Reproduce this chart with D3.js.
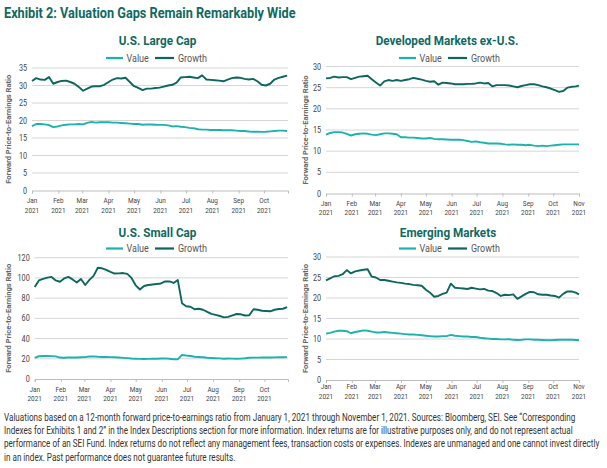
<!DOCTYPE html>
<html><head><meta charset="utf-8">
<script src="https://cdn.jsdelivr.net/npm/d3@7"></script>
<style>
html,body{margin:0;padding:0;background:#fff;}
svg{display:block;}
</style></head>
<body>
<svg id="chart" width="607" height="468"></svg>
<script>
// ---------- DATA ----------
const chartTitle = "Exhibit 2: Valuation Gaps Remain Remarkably Wide";
const panelTitles = ["U.S. Large Cap", "Developed Markets ex-U.S.", "U.S. Small Cap", "Emerging Markets"];
const seriesNames = ["Value", "Growth"];
const yAxisTitle = "Forward Price-to-Earnings Ratio";
const yTicksLarge = [0,5,10,15,20,25,30,35];
const yTicksDev = [0,5,10,15,20,25,30];
const yTicksSmall = [0,20,40,60,80,100,120];
const yTicksEm = [0,5,10,15,20,25,30];
// days since Jan 1, 2021
const daysUS = [0,5,10,15,20,25,30,35,40,45,50,55,60,65,70,75,80,85,90,95,100,105,110,115,120,125,130,135,140,145,150,155,160,165,170,175,180,185,190,195,200,205,210,215,220,225,230,235,240,245,250,255,260,265,270,275,280,285,290,295,300];
const daysIntl = [0,5,10,15,20,25,30,35,40,45,50,55,60,65,70,75,80,85,90,95,100,105,110,115,120,125,130,135,140,145,150,155,160,165,170,175,180,185,190,195,200,205,210,215,220,225,230,235,240,245,250,255,260,265,270,275,280,285,290,295,300,304];

const largeValue = [18.4,19.0,19.0,18.9,18.7,18.1,18.3,18.6,18.8,18.9,18.9,19.0,18.9,19.3,19.6,19.4,19.5,19.5,19.5,19.4,19.4,19.3,19.2,19.1,19.0,19.0,18.8,18.9,18.85,18.8,18.75,18.75,18.6,18.3,18.4,18.2,18.1,17.9,17.8,17.5,17.4,17.4,17.3,17.3,17.3,17.2,17.2,17.2,17.1,17.0,17.0,16.85,16.8,16.8,16.75,16.8,16.9,17.0,17.1,17.1,17.0];
const largeGrowth = [31.3,32.1,31.7,31.6,32.4,30.5,31.0,31.3,31.4,31.0,30.5,29.6,28.5,29.1,29.7,29.8,29.8,30.2,31.0,31.7,32.1,32.0,32.2,31.0,29.8,29.3,28.7,29.1,29.1,29.3,29.4,29.7,30.0,30.2,30.8,32.3,32.4,32.5,32.3,32.1,32.9,31.7,31.6,31.5,31.4,31.2,31.7,32.1,32.3,32.2,31.9,31.7,31.9,31.2,30.2,30.0,30.5,31.7,32.2,32.5,32.8];

const devValue = [13.9,14.3,14.5,14.5,14.4,14.1,13.7,14.0,14.1,14.2,14.1,13.9,13.8,14.0,14.2,14.2,14.1,14.0,13.3,13.3,13.2,13.2,13.1,13.0,13.0,13.1,12.9,12.8,12.8,12.75,12.7,12.7,12.7,12.6,12.4,12.2,12.3,12.1,12.0,11.8,11.8,11.8,11.75,11.6,11.5,11.6,11.5,11.5,11.4,11.5,11.3,11.2,11.3,11.2,11.3,11.4,11.5,11.6,11.6,11.6,11.6,11.6];
const devGrowth = [27.2,27.3,27.6,27.4,27.5,27.5,27.0,27.3,27.6,27.7,27.8,27.0,26.2,25.5,26.5,26.8,26.6,26.8,26.6,26.8,27.0,27.3,27.1,26.9,26.6,26.4,26.5,25.7,26.2,26.1,26.0,25.8,25.8,25.8,25.9,25.9,26.0,26.2,26.0,26.1,25.3,25.6,25.6,25.6,25.5,25.3,25.1,25.4,25.6,25.8,25.8,25.6,25.3,25.1,24.8,24.4,24.0,24.2,25.0,25.2,25.3,25.5];

const smallValue = [21.0,22.5,22.7,22.8,22.6,22.4,21.2,21.0,21.3,21.2,21.3,21.5,21.6,22.3,22.4,22.0,21.8,21.7,21.6,21.5,21.2,20.9,20.6,20.3,20.1,19.9,19.8,19.9,20.0,20.1,20.3,20.4,20.0,19.6,19.5,23.8,23.2,22.8,22.0,21.8,21.5,21.0,20.8,20.6,20.4,20.1,20.3,20.2,20.0,20.2,20.5,21.0,21.1,21.1,21.2,21.3,21.3,21.4,21.5,21.5,21.6];
const smallGrowth = [91.0,97.5,99.0,100.3,101.0,97.5,96.2,99.5,101.0,98.5,95.5,99.0,93.0,98.0,102.0,110.0,109.5,108.0,106.0,104.3,104.5,104.8,104.0,100.0,92.7,88.5,92.0,93.0,93.5,94.0,94.5,96.5,96.5,95.0,98.0,75.0,72.0,71.5,69.0,69.5,68.5,66.5,64.5,63.5,62.3,61.0,61.5,63.0,64.3,64.0,62.8,63.0,69.0,68.5,67.5,67.3,67.0,68.5,69.3,69.5,71.0];

const emValue = [11.3,11.5,11.8,12.0,12.0,11.9,11.4,11.7,11.9,12.1,12.0,11.8,11.6,11.6,11.7,11.6,11.5,11.4,11.3,11.2,11.1,11.1,11.0,10.9,10.8,10.7,10.6,10.6,10.7,10.7,11.0,10.8,10.7,10.6,10.6,10.5,10.5,10.3,10.2,10.1,10.0,10.0,9.9,9.9,9.95,9.8,9.75,9.8,9.9,9.9,9.8,9.8,9.75,9.7,9.7,9.75,9.8,9.85,9.8,9.8,9.75,9.7];
const emGrowth = [24.3,24.8,25.3,25.4,25.8,26.8,26.0,26.5,26.7,26.9,27.0,25.2,25.0,24.4,24.4,24.2,24.0,23.8,23.7,23.5,23.4,23.2,23.1,23.0,22.0,21.3,20.3,20.5,21.0,21.3,23.5,22.5,22.4,22.3,22.2,22.5,22.3,22.1,22.2,21.8,21.7,21.2,20.5,20.8,20.7,20.9,19.8,20.4,21.0,21.5,21.4,20.9,20.8,20.8,20.6,20.5,20.1,21.0,21.6,21.6,21.3,20.9];

const footnoteLines = [
 "Valuations based on a 12-month forward price-to-earnings ratio from January 1, 2021 through November 1, 2021. Sources: Bloomberg, SEI. See \u201cCorresponding",
 "Indexes for Exhibits 1 and 2\u201d in the Index Descriptions section for more information. Index returns are for illustrative purposes only, and do not represent actual",
 "performance of an SEI Fund. Index returns do not reflect any management fees, transaction costs or expenses. Indexes are unmanaged and one cannot invest directly",
 "in an index. Past performance does not guarantee future results."
];

// ---------- STYLE / LAYOUT ----------
const C_VALUE = "#1db3ad";
const C_GROWTH = "#0c675e";
const C_TITLE = "#11695f";
const FONT = "Roboto, sans-serif";
const start = new Date(2021, 0, 1);
const toDate = d => d3.timeDay.offset(start, d);

// condensed text helper: horizontally scaled text
function narrowText(parent, x, y, str, opts) {
  const o = Object.assign({size: 8, anchor: "start", sx: 0.82, fill: "#444", weight: 400, width: null}, opts || {});
  const g = parent.append("g").attr("transform", `translate(${x},${y})`);
  const t = g.append("text").attr("x", 0).attr("y", 0).attr("text-anchor", o.anchor)
    .attr("font-family", FONT).attr("font-size", o.size).attr("font-weight", o.weight)
    .attr("fill", o.fill).text(str);
  let sx = o.sx;
  if (o.width) sx = o.width / t.node().getComputedTextLength();
  g.attr("transform", `translate(${x},${y}) scale(${sx},1)`);
  return t;
}

const panels = [
  {title: panelTitles[0], days: daysUS, value: largeValue, growth: largeGrowth, yTicks: yTicksLarge,
   x0: 32, x1: 288, yT: 68, yB: 190.5, end: new Date(2021,9,29), tx: 157.5, ty: 45, lx: 106, ly: 58, ylx: 8, lab1: 203, lab2: 213},
  {title: panelTitles[1], days: daysIntl, value: devValue, growth: devGrowth, yTicks: yTicksDev,
   x0: 326, x1: 579, yT: 66.5, yB: 193.5, end: new Date(2021,10,1), tx: 447, ty: 45, lx: 399, ly: 58, ylx: 305, lab1: 205.5, lab2: 215},
  {title: panelTitles[2], days: daysUS, value: smallValue, growth: smallGrowth, yTicks: yTicksSmall,
   x0: 34.7, x1: 288, yT: 257.7, yB: 379, end: new Date(2021,9,29), tx: 157.5, ty: 236.5, lx: 106, ly: 248.5, ylx: 8, lab1: 391.5, lab2: 401},
  {title: panelTitles[3], days: daysIntl, value: emValue, growth: emGrowth, yTicks: yTicksEm,
   x0: 326, x1: 579, yT: 257, yB: 380, end: new Date(2021,10,1), tx: 448, ty: 236.5, lx: 399, ly: 248.5, ylx: 305, lab1: 389, lab2: 398.5}
];

const svg = d3.select("#chart");

narrowText(svg, 4, 17.5, chartTitle, {size: 15.5, weight: 700, fill: C_TITLE, width: 292});

panels.forEach(p => {
  const g = svg.append("g");
  const x = d3.scaleTime().domain([start, p.end]).range([p.x0, p.x1]);
  const yMax = p.yTicks[p.yTicks.length - 1];
  const y = d3.scaleLinear().domain([0, yMax]).range([p.yB, p.yT]);

  // gridlines
  g.selectAll("line.grid").data(p.yTicks.filter(t => t > 0)).join("line")
    .attr("x1", p.x0).attr("x2", p.x1).attr("y1", d => y(d)).attr("y2", d => y(d))
    .attr("stroke", "#d6d6d6").attr("stroke-width", 1);

  // y tick labels
  p.yTicks.forEach(t => {
    narrowText(g, p.x0 - 5, y(t) + 3, String(t), {size: 8.5, anchor: "end", sx: 0.85, fill: "#444"});
  });

  // x axis
  const months = d3.timeMonth.range(start, d3.timeDay.offset(p.end, 1));
  const xAxis = d3.axisBottom(x).tickValues(months).tickSize(3).tickFormat("");
  const xa = g.append("g").attr("transform", `translate(0,${p.yB})`).call(xAxis);
  xa.select(".domain").attr("stroke", "#bdbdbd");
  xa.selectAll(".tick line").attr("stroke", "#bdbdbd");
  const fmtM = d3.timeFormat("%b"), fmtY = d3.timeFormat("%Y");
  months.forEach(m => {
    narrowText(g, x(m), p.lab1, fmtM(m), {size: 8, anchor: "middle", sx: 0.8});
    narrowText(g, x(m), p.lab2, fmtY(m), {size: 8, anchor: "middle", sx: 0.8});
  });

  // y axis title
  const yc = (p.yT + p.yB) / 2;
  g.append("text").attr("transform", `translate(${p.ylx + 3},${yc}) rotate(-90)`)
    .attr("text-anchor", "middle").attr("font-family", FONT).attr("font-weight", 700)
    .attr("font-size", 8).attr("fill", "#666").attr("textLength", 109).attr("lengthAdjust", "spacingAndGlyphs")
    .text(yAxisTitle);

  // panel title
  narrowText(g, p.tx, p.ty, p.title, {size: 13, weight: 700, anchor: "middle", sx: 0.9, fill: C_TITLE});

  // legend
  const lg = g.append("g").attr("transform", `translate(${p.lx},${p.ly})`);
  lg.append("line").attr("x1", 0).attr("x2", 17).attr("stroke", C_VALUE).attr("stroke-width", 2.2);
  narrowText(lg, 20.5, 3.5, seriesNames[0], {size: 10, sx: 0.9, fill: "#555"});
  lg.append("line").attr("x1", 49).attr("x2", 68).attr("stroke", C_GROWTH).attr("stroke-width", 2.2);
  narrowText(lg, 72, 3.5, seriesNames[1], {size: 10, sx: 0.9, fill: "#555"});

  // lines
  const line = d3.line().x((d, i) => x(toDate(p.days[i]))).y(d => y(d)).curve(d3.curveLinear);
  g.append("path").datum(p.value).attr("d", line).attr("fill", "none")
    .attr("stroke", C_VALUE).attr("stroke-width", 1.9).attr("stroke-linejoin", "round");
  g.append("path").datum(p.growth).attr("d", line).attr("fill", "none")
    .attr("stroke", C_GROWTH).attr("stroke-width", 1.9).attr("stroke-linejoin", "round");
});

// footnote: one uniform horizontal scale, set so the longest line spans the page width
const fnG = svg.append("g");
const probe = fnG.append("text").attr("font-family", FONT).attr("font-size", 10.5).text(footnoteLines[2]);
const fnScale = 596 / probe.node().getComputedTextLength();
probe.remove();
footnoteLines.forEach((t, i) => {
  narrowText(fnG, 4, 420.5 + i * 13.4, t, {size: 10.5, fill: "#333", sx: fnScale});
});
</script>
</body></html>
